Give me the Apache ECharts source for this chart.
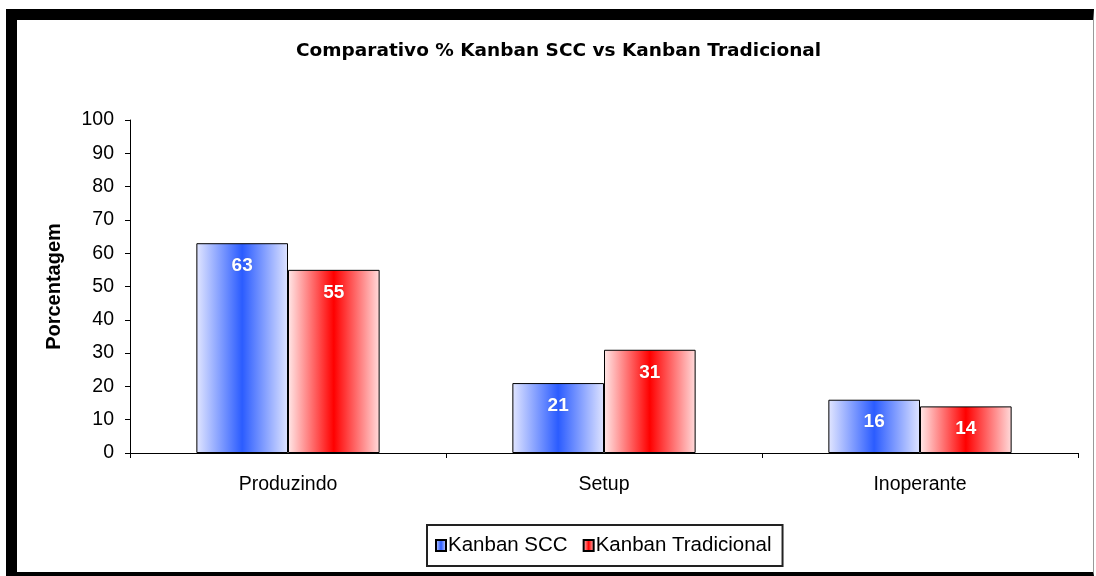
<!DOCTYPE html>
<html>
<head>
<meta charset="utf-8">
<script src="https://cdn.jsdelivr.net/npm/echarts@6/dist/echarts.min.js"></script>
<style>
html,body{margin:0;padding:0;background:#fff;}
#frame{position:absolute;left:6px;top:9px;width:1088px;height:567px;border-top:11px solid #000;border-left:11px solid #000;border-right:1px solid #999;border-bottom:4px solid #000;box-sizing:border-box;}
#chart{position:absolute;left:0;top:0;width:1096px;height:576px;}
</style>
</head>
<body>
<div id="frame"></div>
<div id="chart"></div>
<script>
const titleText = 'Comparativo % Kanban SCC vs Kanban Tradicional';
const categories = ['Produzindo', 'Setup', 'Inoperante'];
const seriesNames = ['Kanban SCC', 'Kanban Tradicional'];
const kanbanSCC = [63, 21, 16];
const kanbanTradicional = [55, 31, 14];
const yAxisName = 'Porcentagem';

function grad(edgeL, mid, edgeR) {
  return new echarts.graphic.LinearGradient(0, 0, 1, 0, [
    {offset: 0, color: edgeL},
    {offset: 0.5, color: mid},
    {offset: 1, color: edgeR}
  ]);
}
const blueFill = grad('#e2e6ff', '#2b5cff', '#dfe4ff');
const redFill = grad('#ffe8e8', '#ff0000', '#ffdcdc');
const FONT = 'Liberation Sans, Arial, sans-serif';

const labelStyle = {
  show: true, position: 'insideTop', distance: 13,
  color: '#fff', fontWeight: 'bold', fontSize: 19,
  fontFamily: FONT,
  textShadowColor: 'rgba(0,0,0,0.25)', textShadowBlur: 1
};

const chart = echarts.init(document.getElementById('chart'));
chart.setOption({
  animation: false,
  title: {
    text: titleText, left: 291, top: 37,
    textStyle: {fontFamily: 'DejaVu Sans, sans-serif', fontWeight: 'bold', fontSize: 18.5, color: '#000'}
  },
  legend: {
    data: seriesNames, left: 427, top: 525,
    orient: 'horizontal', padding: [10, 11, 10, 8], itemGap: 15,
    itemWidth: 10, itemHeight: 11, icon: 'rect',
    borderColor: '#222', borderWidth: 2,
    textStyle: {fontFamily: FONT, fontSize: 20.5, color: '#000', padding: [0,0,0,-3]}
  },
  grid: {left: 130, right: 18, top: 120, bottom: 123},
  xAxis: {
    type: 'category', data: categories,
    axisLine: {lineStyle: {color: '#000', width: 1}},
    axisTick: {show: true, length: 5, lineStyle: {color: '#000'}},
    axisLabel: {fontFamily: FONT, fontSize: 19.5, color: '#000', margin: 22}
  },
  yAxis: {
    type: 'value', min: 0, max: 100, interval: 10,
    name: yAxisName, nameLocation: 'middle', nameRotate: 90, nameGap: 66,
    nameTextStyle: {fontFamily: FONT, fontWeight: 'bold', fontSize: 20, color: '#000'},
    axisLine: {show: true, lineStyle: {color: '#000', width: 1}},
    axisTick: {show: true, length: 5, lineStyle: {color: '#000'}},
    splitLine: {show: false},
    axisLabel: {fontFamily: FONT, fontSize: 19.5, color: '#000', margin: 16}
  },
  series: [
    {
      name: seriesNames[0], type: 'bar', data: kanbanSCC,
      barGap: '0%', barCategoryGap: '42%',
      itemStyle: {color: blueFill, borderColor: '#000', borderWidth: 1},
      label: labelStyle
    },
    {
      name: seriesNames[1], type: 'bar', data: kanbanTradicional,
      itemStyle: {color: redFill, borderColor: '#000', borderWidth: 1},
      label: labelStyle
    }
  ]
});
</script>
</body>
</html>
